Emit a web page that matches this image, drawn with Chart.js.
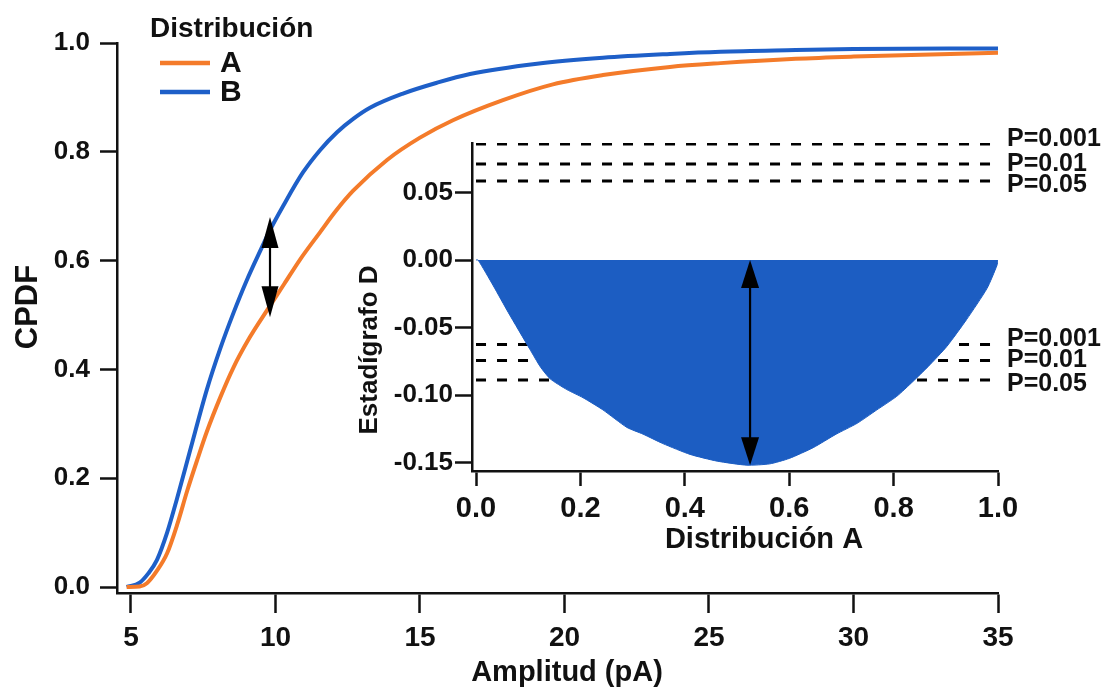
<!DOCTYPE html>
<html><head><meta charset="utf-8">
<script src="https://cdn.jsdelivr.net/npm/chart.js@4"></script>
<style>
html,body{margin:0;padding:0;background:#fff;width:1111px;height:691px;overflow:hidden}
#main{position:absolute;left:0;top:0}
#inset{position:absolute;left:330px;top:120px}
</style></head><body>
<canvas id="main" width="1111" height="691"></canvas>
<canvas id="inset" width="781" height="450"></canvas>
<script>
// ---------- data ----------
const seriesNames = ['A', 'B'];
const ampA  = [4.85,5.3,5.55,5.9,6.25,6.6,6.94,7.3,7.62,8.1,8.54,9.1,9.7,10.3,10.85,11.54,12.1,12.68,13.86,15.0,16.14,17.87,19.6,21.33,23.65,25.4,28,30,32,35];
const cpdfA = [0,0.001,0.007,0.03,0.062,0.115,0.176,0.235,0.285,0.35,0.403,0.458,0.508,0.557,0.602,0.652,0.692,0.728,0.785,0.826,0.858,0.895,0.924,0.941,0.956,0.963,0.971,0.975,0.978,0.982];
const ampB  = [4.85,5.3,5.6,5.9,6.25,6.58,7.04,7.62,8.1,8.54,9.0,9.5,9.81,10.26,10.95,11.54,12.13,12.7,13.27,14.41,15.59,16.73,19.05,21.33,23.65,25.4,28,30,35];
const cpdfB = [0,0.008,0.025,0.05,0.10,0.16,0.25,0.362,0.44,0.503,0.563,0.621,0.656,0.7,0.762,0.803,0.836,0.861,0.881,0.907,0.927,0.943,0.962,0.973,0.98,0.984,0.987,0.989,0.99];
const xTicks = [5,10,15,20,25,30,35];
const yTicks = [0,0.2,0.4,0.6,0.8,1.0];
const mainArrow = {x: 9.81, from: 0.68, to: 0.496};

const insetX = [0,0.004,0.033,0.062,0.103,0.123,0.142,0.174,0.205,0.243,0.289,0.32,0.358,0.41,0.462,0.519,0.563,0.60,0.646,0.69,0.73,0.768,0.806,0.837,0.866,0.902,0.94,0.979,0.998,1.0];
const insetD = [0,0,-0.019,-0.039,-0.066,-0.079,-0.088,-0.096,-0.102,-0.111,-0.124,-0.129,-0.136,-0.144,-0.149,-0.152,-0.151,-0.147,-0.139,-0.129,-0.121,-0.111,-0.101,-0.090,-0.079,-0.064,-0.044,-0.021,-0.004,0];
const insetXTicks = [0,0.2,0.4,0.6,0.8,1.0];
const insetYTicks = [0.05,0,-0.05,-0.10,-0.15];
const critLabels = ['P=0.001','P=0.01','P=0.05'];
const critUpper = [0.0859,0.0711,0.0585];
const critLower = [-0.0626,-0.0744,-0.0889];
const insetArrow = {x: 0.525, from: 0, to: -0.152};

// ---------- styles ----------
const FAM = '"Liberation Sans", Arial, sans-serif';
const INK = '#111';
const colA = '#f47b2a', colB = '#1e5fc8', colFill = '#1c5dc2';

const pts = (xs, ys) => xs.map((x, i) => ({x, y: ys[i]}));

const arrowPlugin = {
  id: 'arrows',
  afterDatasetsDraw(chart, args, opts) {
    const {ctx, scales: {x, y}} = chart;
    (opts.items || []).forEach(a => {
      const px = x.getPixelForValue(a.x);
      const p1 = y.getPixelForValue(a.from), p2 = y.getPixelForValue(a.to);
      const hl = a.headLen, hw = a.headW / 2;
      ctx.save();
      ctx.strokeStyle = '#000'; ctx.fillStyle = '#000'; ctx.lineWidth = 2.2;
      ctx.beginPath(); ctx.moveTo(px, p1 + hl - 2); ctx.lineTo(px, p2 - hl + 2); ctx.stroke();
      ctx.beginPath(); ctx.moveTo(px, p1); ctx.lineTo(px - hw, p1 + hl); ctx.lineTo(px + hw, p1 + hl); ctx.closePath(); ctx.fill();
      ctx.beginPath(); ctx.moveTo(px, p2); ctx.lineTo(px - hw, p2 - hl); ctx.lineTo(px + hw, p2 - hl); ctx.closePath(); ctx.fill();
      ctx.restore();
    });
  }
};

const textPlugin = {
  id: 'texts',
  afterDraw(chart, args, opts) {
    const ctx = chart.ctx;
    (opts.items || []).forEach(t => {
      ctx.save();
      ctx.font = t.font; ctx.fillStyle = INK;
      ctx.textAlign = t.align || 'center'; ctx.textBaseline = 'middle';
      ctx.translate(t.x, t.y); ctx.rotate(t.rot || 0);
      ctx.fillText(t.text, 0, 0);
      ctx.restore();
    });
  }
};

const legendPlugin = {
  id: 'customLegend',
  afterDraw(chart, args, opts) {
    const ctx = chart.ctx;
    ctx.save();
    ctx.fillStyle = INK; ctx.textBaseline = 'middle'; ctx.textAlign = 'left';
    ctx.font = 'bold 28px ' + FAM;
    ctx.fillText(opts.title, 150, 29);
    ctx.font = 'bold 30px ' + FAM;
    chart.data.datasets.forEach((ds, i) => {
      const yy = 63 + i * 29;
      ctx.strokeStyle = ds.borderColor; ctx.lineWidth = 4.5;
      ctx.beginPath(); ctx.moveTo(160, yy); ctx.lineTo(210, yy); ctx.stroke();
      ctx.fillText(ds.label, 220, yy + 1);
    });
    ctx.restore();
  }
};

const critLabelPlugin = {
  id: 'critLabels',
  afterDatasetsDraw(chart) {
    const {ctx, scales: {y}, chartArea} = chart;
    const nudge = [-5, 0, 4];
    ctx.save();
    ctx.fillStyle = INK; ctx.font = 'bold 25px ' + FAM;
    ctx.textAlign = 'left'; ctx.textBaseline = 'middle';
    [critUpper, critLower].forEach(arr => arr.forEach((v, i) => {
      ctx.fillText(critLabels[i], chartArea.right + 9, y.getPixelForValue(v) + nudge[i]);
    }));
    ctx.restore();
  }
};

const axisCommon = (len) => ({
  grid: {display: true, drawOnChartArea: false, drawTicks: true, tickLength: len, tickWidth: 2.5, tickColor: INK},
  border: {display: true, color: INK, width: 2.5}
});

// ---------- main chart ----------
new Chart(document.getElementById('main'), {
  type: 'line',
  data: {
    datasets: [
      {label: seriesNames[0], data: pts(ampA, cpdfA), borderColor: colA, borderWidth: 4, pointRadius: 0, cubicInterpolationMode: 'monotone', fill: false},
      {label: seriesNames[1], data: pts(ampB, cpdfB), borderColor: colB, borderWidth: 4, pointRadius: 0, cubicInterpolationMode: 'monotone', fill: false}
    ]
  },
  options: {
    responsive: false, animation: false, devicePixelRatio: 1,
    layout: {padding: {top: 43, right: 113, left: 0, bottom: 0}},
    plugins: {
      legend: {display: false}, tooltip: {enabled: false},
      customLegend: {title: 'Distribución'},
      arrows: {items: [{...mainArrow, headLen: 31, headW: 17}]},
      texts: {items: [
        {text: 'Amplitud (pA)', x: 567, y: 673, font: 'bold 29px ' + FAM},
        {text: 'CPDF', x: 28, y: 307, rot: -Math.PI / 2, font: 'bold 31px ' + FAM}
      ]}
    },
    scales: {
      x: {
        type: 'linear', min: 4.516, max: 35,
        afterBuildTicks: s => { s.ticks = xTicks.map(v => ({value: v})); },
        afterFit: s => { s.height = 98; },
        ticks: {font: {family: FAM, size: 28, weight: 'bold'}, color: INK, padding: 8, maxRotation: 0, callback: v => String(v)},
        ...axisCommon(20)
      },
      y: {
        type: 'linear', min: -0.011, max: 1.0,
        afterBuildTicks: s => { s.ticks = yTicks.map(v => ({value: v})); },
        afterFit: s => { s.width = 117; },
        ticks: {font: {family: FAM, size: 26, weight: 'bold'}, color: INK, padding: 10, callback: v => v.toFixed(1)},
        ...axisCommon(17)
      }
    }
  },
  plugins: [arrowPlugin, textPlugin, legendPlugin]
});

// ---------- inset chart ----------
const critSets = [...critUpper, ...critLower].map(v => ({
  data: [{x: 0, y: v}, {x: 1, y: v}], borderColor: '#000', borderWidth: 3,
  borderDash: [10, 11], pointRadius: 0, fill: false
}));

new Chart(document.getElementById('inset'), {
  type: 'line',
  data: {
    datasets: [
      {label: 'D', data: pts(insetX, insetD), borderColor: colFill, backgroundColor: colFill, borderWidth: 1, pointRadius: 0, fill: 'origin', tension: 0.2},
      ...critSets
    ]
  },
  options: {
    responsive: false, animation: false, devicePixelRatio: 1,
    layout: {padding: {top: 23, right: 113, left: 0, bottom: 0}},
    plugins: {
      legend: {display: false}, tooltip: {enabled: false},
      arrows: {items: [{...insetArrow, headLen: 28, headW: 18}]},
      texts: {items: [
        {text: 'Distribución A', x: 434, y: 420, font: 'bold 29px ' + FAM},
        {text: 'Estadígrafo D', x: 40, y: 230, rot: -Math.PI / 2, font: 'bold 26px ' + FAM}
      ]}
    },
    scales: {
      x: {
        type: 'linear', min: -0.0077, max: 1.0,
        afterBuildTicks: s => { s.ticks = insetXTicks.map(v => ({value: v})); },
        afterFit: s => { s.height = 99; },
        ticks: {font: {family: FAM, size: 29, weight: 'bold'}, color: INK, padding: 6, maxRotation: 0, callback: v => v.toFixed(1)},
        ...axisCommon(15)
      },
      y: {
        type: 'linear', min: -0.1563, max: 0.0867,
        afterBuildTicks: s => { s.ticks = insetYTicks.map(v => ({value: v})); },
        afterFit: s => { s.width = 142; },
        ticks: {font: {family: FAM, size: 26, weight: 'bold'}, color: INK, padding: 2, callback: v => v.toFixed(2)},
        ...axisCommon(17)
      }
    }
  },
  plugins: [arrowPlugin, textPlugin, critLabelPlugin]
});
</script>
</body></html>
